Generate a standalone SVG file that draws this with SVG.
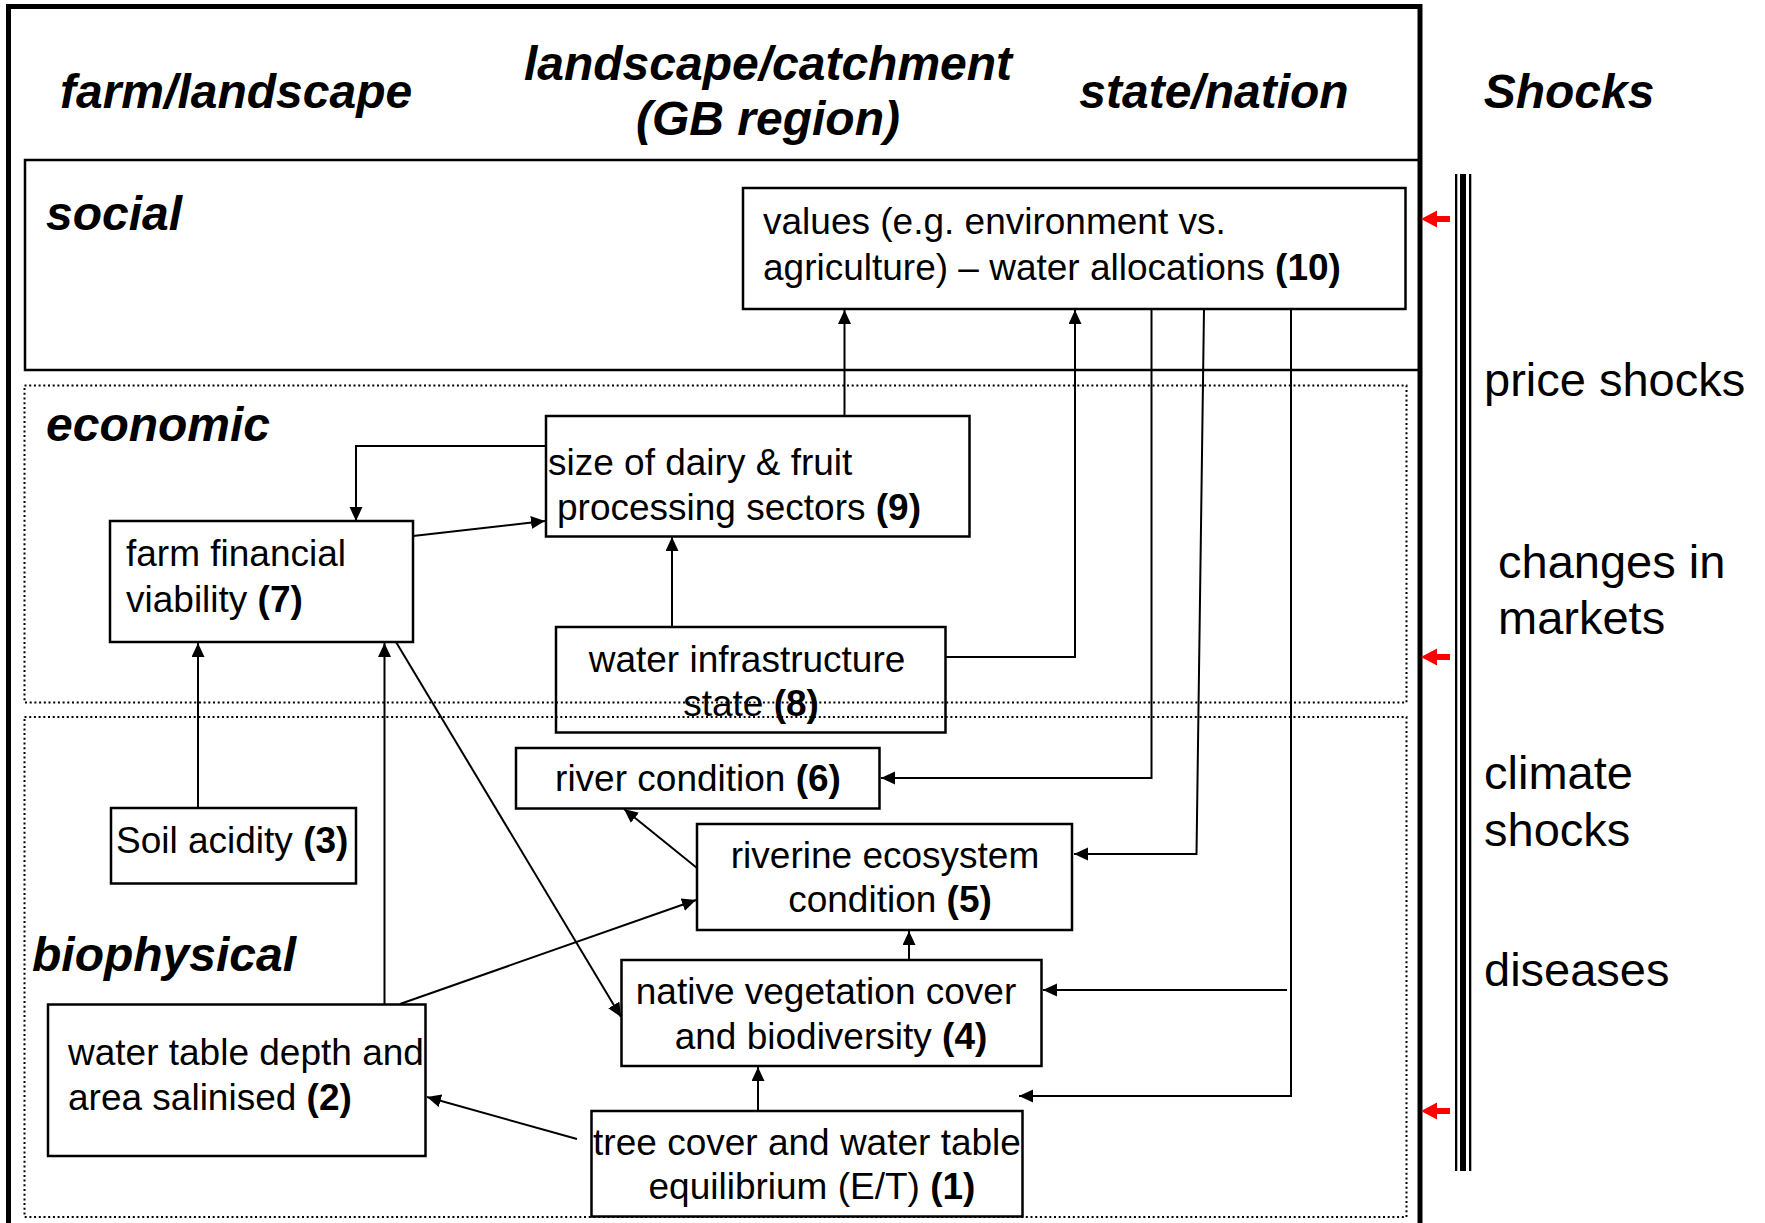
<svg xmlns="http://www.w3.org/2000/svg" width="1765" height="1223" viewBox="0 0 1765 1223">
<style>
.hdr{font-family:"Liberation Sans",Arial,sans-serif;font-size:48px;font-weight:bold;font-style:italic;fill:#000}
.txt{font-family:"Liberation Sans",Arial,sans-serif;font-size:37px;fill:#000}
.shock{font-family:"Liberation Sans",Arial,sans-serif;font-size:47px;fill:#000}
.box{fill:none;stroke:#000;stroke-width:2.5}
.dot{fill:none;stroke:#000;stroke-width:2;stroke-dasharray:2 2.7}
.con{fill:none;stroke:#000;stroke-width:2;marker-end:url(#ah)}
.b{font-weight:bold}
</style>
<defs>
<marker id="ah" markerUnits="userSpaceOnUse" markerWidth="15" markerHeight="14" refX="14" refY="6.5" orient="auto">
<path d="M0,0 L14,6.5 L0,13 z" fill="#000"/>
</marker>
</defs>
<rect width="1765" height="1223" fill="#fff"/>
<g id="regions">
<rect x="8.5" y="6.5" width="1411.5" height="1230" fill="none" stroke="#000" stroke-width="5"/>
<rect x="25" y="160" width="1395" height="210" fill="none" stroke="#000" stroke-width="2.5"/>
<rect class="dot" x="24.5" y="385.5" width="1382" height="317"/>
<rect class="dot" x="24.5" y="717" width="1382" height="500"/>
<text class="hdr" x="60" y="108">farm/landscape</text>
<text class="hdr" x="768" y="80" text-anchor="middle">landscape/catchment</text>
<text class="hdr" x="768" y="135" text-anchor="middle">(GB region)</text>
<text class="hdr" x="1214" y="108" text-anchor="middle">state/nation</text>
<text class="hdr" x="1569" y="108" text-anchor="middle">Shocks</text>
<text class="hdr" x="46" y="230">social</text>
<text class="hdr" x="46" y="441">economic</text>
<text class="hdr" x="32" y="971">biophysical</text>
</g>
<g id="n10">
<rect class="box" x="743" y="188" width="662.5" height="121"/>
<text class="txt" x="763" y="234">values (e.g. environment vs.</text>
<text class="txt" x="763" y="280">agriculture) – water allocations <tspan class="b">(10)</tspan></text>
</g>
<g id="n9">
<rect class="box" x="546" y="416" width="423.5" height="120.5"/>
<text class="txt" x="548" y="475">size of dairy &amp; fruit</text>
<text class="txt" x="557" y="520">processing sectors <tspan class="b">(9)</tspan></text>
</g>
<g id="n7">
<rect class="box" x="110" y="521" width="303" height="121"/>
<text class="txt" x="126" y="566">farm financial</text>
<text class="txt" x="126" y="612">viability <tspan class="b">(7)</tspan></text>
</g>
<g id="n8">
<rect class="box" x="556" y="627" width="389.5" height="105.5"/>
<text class="txt" x="747" y="672" text-anchor="middle">water infrastructure</text>
<text class="txt" x="751" y="716" text-anchor="middle">state <tspan class="b">(8)</tspan></text>
</g>
<g id="n6">
<rect class="box" x="516" y="748" width="363.5" height="60.5"/>
<text class="txt" x="698" y="791" text-anchor="middle">river condition <tspan class="b">(6)</tspan></text>
</g>
<g id="n3">
<rect class="box" x="111" y="808" width="245" height="75.5"/>
<text class="txt" x="116" y="853">Soil acidity <tspan class="b">(3)</tspan></text>
</g>
<g id="n5">
<rect class="box" x="697" y="824" width="375" height="106"/>
<text class="txt" x="885" y="868" text-anchor="middle">riverine ecosystem</text>
<text class="txt" x="890" y="912" text-anchor="middle">condition <tspan class="b">(5)</tspan></text>
</g>
<g id="n4">
<rect class="box" x="621.5" y="960" width="420" height="106"/>
<text class="txt" x="826" y="1004" text-anchor="middle">native vegetation cover</text>
<text class="txt" x="831" y="1049" text-anchor="middle">and biodiversity <tspan class="b">(4)</tspan></text>
</g>
<g id="n2">
<rect class="box" x="48" y="1004.5" width="377.5" height="151.5"/>
<text class="txt" x="68" y="1065">water table depth and</text>
<text class="txt" x="68" y="1110">area salinised <tspan class="b">(2)</tspan></text>
</g>
<g id="n1">
<rect class="box" x="591.5" y="1111" width="431" height="105.5"/>
<text class="txt" x="807" y="1155" text-anchor="middle">tree cover and water table</text>
<text class="txt" x="812" y="1199" text-anchor="middle">equilibrium (E/T) <tspan class="b">(1)</tspan></text>
</g>
<g id="connectors">
<path class="con" d="M844.5,416 V310"/>
<path class="con" d="M946,657 H1075 V310"/>
<path class="con" d="M1151.5,309 V778 H881"/>
<path class="con" d="M1204,309 L1196.5,854 H1074"/>
<path class="con" d="M1291,309 V1096 H1019"/>
<path class="con" d="M1287,990 H1043"/>
<path class="con" d="M546,446 H356 V521"/>
<path class="con" d="M413,536 L545,521"/>
<path class="con" d="M672,627 V537"/>
<path class="con" d="M198,808 V643"/>
<path class="con" d="M384.5,1004 V643"/>
<path class="con" d="M396,642 L621,1017"/>
<path class="con" d="M400,1004 L696,900"/>
<path class="con" d="M697,868 L624,809"/>
<path class="con" d="M909,960 V931"/>
<path class="con" d="M758,1111 V1067"/>
<path class="con" d="M577,1139 L427,1097"/>
</g>
<g id="shocks">
<polygon fill="#f00" points="1421,219 1437,210.5 1437,216 1450,216 1450,222 1437,222 1437,227.5"/>
<polygon fill="#f00" points="1421,657 1437,648.5 1437,654 1450,654 1450,660 1437,660 1437,665.5"/>
<polygon fill="#f00" points="1421,1111 1437,1102.5 1437,1108 1450,1108 1450,1114 1437,1114 1437,1119.5"/>
<rect x="1455" y="174" width="2.3" height="997" fill="#000"/>
<rect x="1460" y="174" width="6" height="997" fill="#000"/>
<rect x="1469" y="174" width="2.3" height="997" fill="#000"/>
<text class="shock" x="1484" y="396">price shocks</text>
<text class="shock" x="1498" y="578">changes in</text>
<text class="shock" x="1498" y="634">markets</text>
<text class="shock" x="1484" y="789">climate</text>
<text class="shock" x="1484" y="846">shocks</text>
<text class="shock" x="1484" y="986">diseases</text>
</g>
</svg>
